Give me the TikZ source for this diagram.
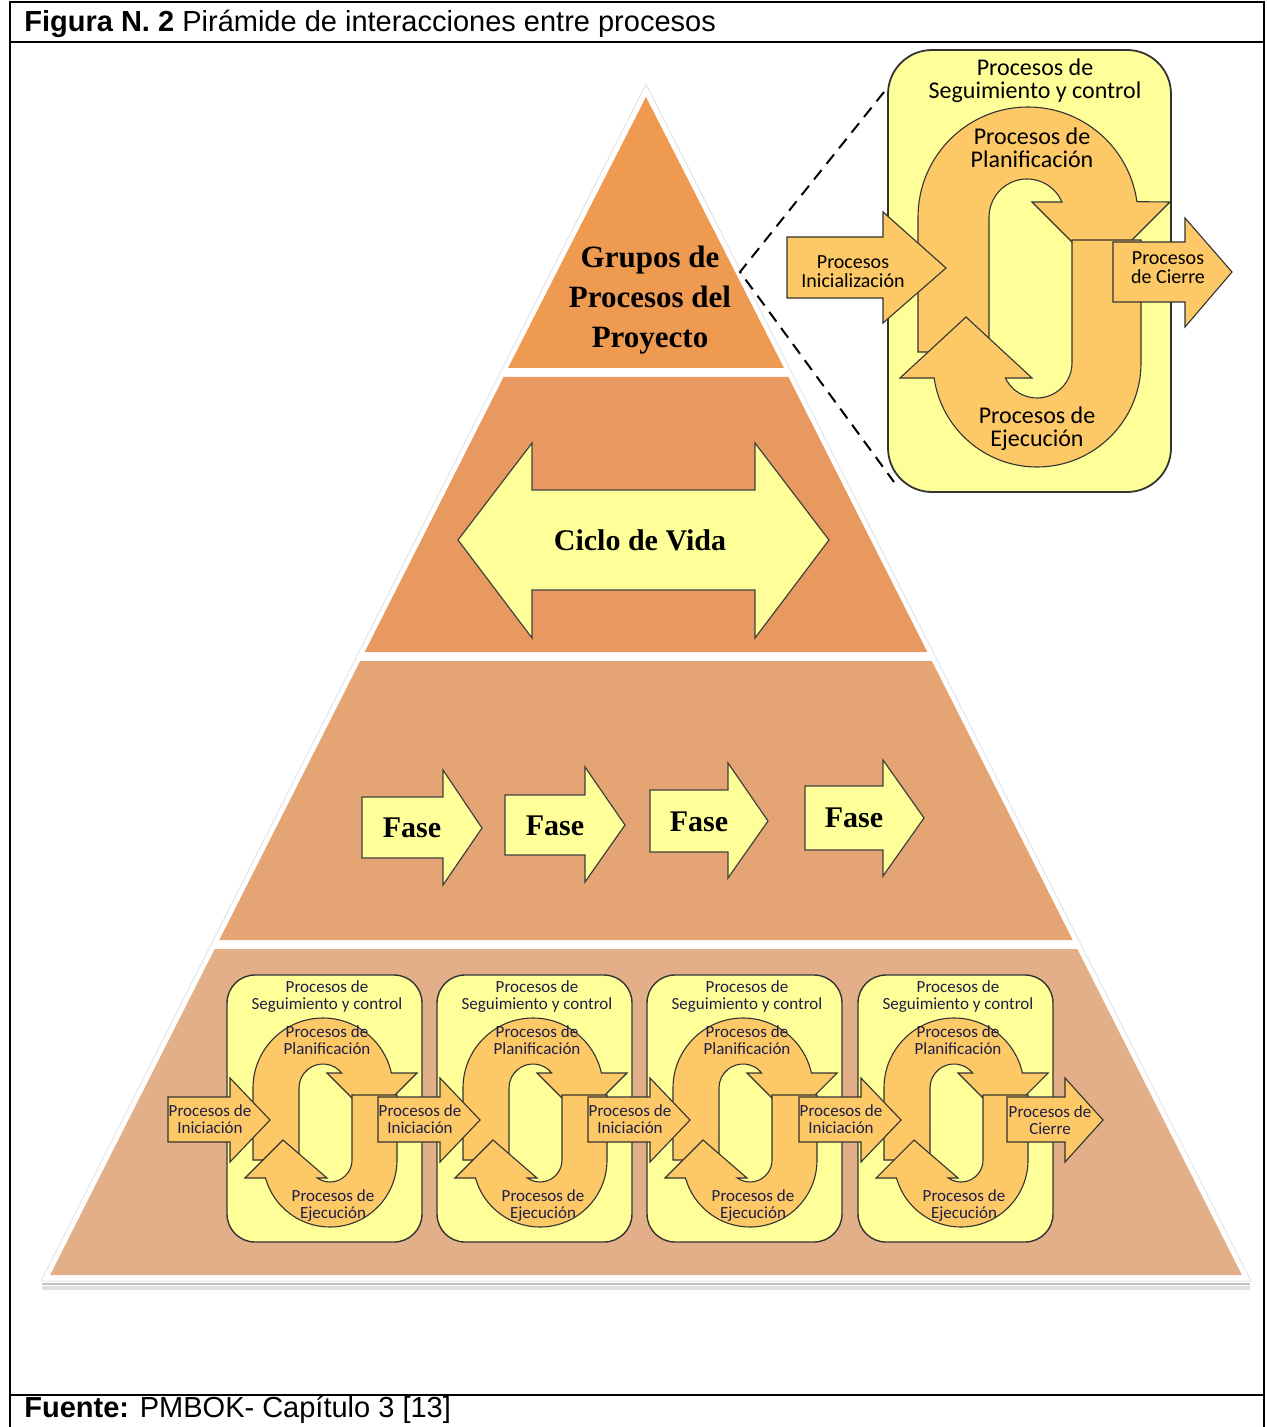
\documentclass[tikz,border=0pt]{standalone}
\usepackage{fontspec}
\setmainfont{Liberation Serif}
\newfontfamily\arialf{Liberation Sans}
\newfontfamily\calf{Carlito}
\definecolor{Lone}{HTML}{EE9A50}
\definecolor{Ltwo}{HTML}{E8995F}
\definecolor{Lthree}{HTML}{E4A473}
\definecolor{Lfour}{HTML}{E2AF89}
\definecolor{yelA}{HTML}{FFFF99}
\definecolor{orgA}{HTML}{FDC866}
\definecolor{navyT}{HTML}{1E1E46}
\tikzset{
  yelshape/.style={fill=yelA, draw=black!75, line width=0.6pt},
  orgshape/.style={fill=orgA, draw=black!80, line width=0.55pt},
  bigbox/.style={fill=yelA, draw=black!80, line width=0.9pt, rounded corners=22pt},
  minibox/.style={fill=yelA, draw=black!80, line width=0.7pt, rounded corners=14pt},
  serlbl/.style={font=\bfseries\fontsize{15.5}{20}\selectfont, align=center, inner sep=0pt},
  insettxt/.style={font=\calf\fontsize{12}{11.5}\selectfont, align=center, inner sep=0pt},
  insetsmall/.style={font=\calf\fontsize{10}{9.5}\selectfont, align=center, inner sep=0pt},
  minitxt/.style={font=\calf\fontsize{8.5}{8.5}\selectfont, align=center, inner sep=0pt, text=navyT},
  frameline/.style={line width=1pt, draw=black},
  dashline/.style={dashed, dash pattern=on 6pt off 4pt, line width=1pt}
}
\begin{document}
\begin{tikzpicture}[x=0.5pt, y=-0.5pt]
\useasboundingbox (0,0) rectangle (1266,1427);
\fill[white] (0,0) rectangle (1266,1427);

% frame
\draw[frameline] (10,1427) -- (10,2) -- (1264,2) -- (1264,1427);
\draw[frameline] (10,42) -- (1264,42);
\draw[frameline] (10,1395) -- (1264,1395);
\node[anchor=base west, inner sep=0pt, font=\arialf\fontsize{14.5}{17}\selectfont] (title) at (24,32)
  {\textbf{Figura N. 2} Pirámide de interacciones entre procesos};
\node[anchor=base west, inner sep=0pt, font=\arialf\fontsize{14.5}{17}\selectfont] (source) at (24,1417)
  {\textbf{Fuente:} PMBOK- Capítulo 3 [13]};

% pyramid shadow and outline
\draw[black!12, line width=2pt] (42,1288) -- (1250,1288);
\draw[black!25, line width=1pt] (42,1284) -- (1250,1284);
\draw[black!10, line width=0.5pt, fill=white] (646,84) -- (1251,1281) -- (41,1281) -- cycle;

% layers
\fill[Lone] (646,97) -- (784,368) -- (508,368) -- cycle;
\fill[Ltwo] (503.6,377) -- (788.4,377) -- (927.3,652) -- (364.7,652) -- cycle;
\fill[Lthree] (360.2,661) -- (931.8,661) -- (1072.7,940) -- (219.3,940) -- cycle;
\fill[Lfour] (214.7,949) -- (1077.3,949) -- (1241.9,1275) -- (50.1,1275) -- cycle;

\node[serlbl] (grupos) at (650,300) {Grupos de\\Procesos del\\Proyecto};

% ciclo de vida
\draw[yelshape] (458,540) -- (532,443) -- (532,490) -- (755,490) -- (755,443) -- (829,540)
  -- (755,638) -- (755,590) -- (532,590) -- (532,638) -- cycle;
\node[serlbl, font=\bfseries\fontsize{15}{18}\selectfont] (ciclo) at (640,540) {Ciclo de Vida};

% fases
\draw[yelshape] (362,797) -- (443,797) -- (443,770) -- (482,828) -- (443,885) -- (443,858) -- (362,858) -- cycle;
\draw[yelshape] (505,795) -- (585,795) -- (585,767) -- (625,825) -- (585,882) -- (585,855) -- (505,855) -- cycle;
\draw[yelshape] (650,790) -- (728,790) -- (728,763) -- (768,821) -- (728,878) -- (728,852) -- (650,852) -- cycle;
\draw[yelshape] (805,786) -- (883,786) -- (883,760) -- (924,818) -- (883,876) -- (883,850) -- (805,850) -- cycle;
\node[serlbl, font=\bfseries\fontsize{15}{18}\selectfont] (fase1) at (412,828) {Fase};
\node[serlbl, font=\bfseries\fontsize{15}{18}\selectfont] (fase2) at (555,826) {Fase};
\node[serlbl, font=\bfseries\fontsize{15}{18}\selectfont] (fase3) at (699,822) {Fase};
\node[serlbl, font=\bfseries\fontsize{15}{18}\selectfont] (fase4) at (854,818) {Fase};

% dashed zoom lines
\coordinate (dk) at (740,272);
\coordinate (du) at (884,92);
\coordinate (dl) at (894,482);
\draw[dashline] (du) -- (dk) -- (dl);

% inset
\draw[bigbox] (888,50) rectangle (1171,492);
\draw[orgshape] (918,352) -- (918,217) arc[start angle=180,end angle=352,radius=110]
  -- (1170,202) -- (1101,271) -- (1032,202) -- (1061.9,202)
  arc[start angle=336.75,end angle=180,radius=38] -- (989,352) -- cycle;
\draw[orgshape] (1072,240) -- (1141,240) -- (1141,363) arc[start angle=0,end angle=171.7,radius=104]
  -- (900,378) -- (966,317) -- (1032,378) -- (1005.4,378)
  arc[start angle=154.6,end angle=0,radius=35] -- cycle;
\draw[orgshape] (787,237) -- (883,237) -- (883,212) -- (946,268) -- (883,323) -- (883,298) -- (787,298) -- cycle;
\draw[orgshape] (1113,242) -- (1185,242) -- (1185,218) -- (1232,272) -- (1185,327) -- (1185,302) -- (1113,302) -- cycle;
\node[insettxt] (seg0) at (1035,81) {Procesos de\\Seguimiento y control};
\node[insettxt] (plan0) at (1032,148) {Procesos de\\Planificación};
\node[insettxt] (ejec0) at (1037,429) {Procesos de\\Ejecución};
\node[insetsmall] (inic0) at (853,272) {Procesos\\Inicialización};
\node[insetsmall] (cier0) at (1168,268) {Procesos\\de Cierre};

% mini cycles
\foreach \L [count=\i] in {227,437,647,858} {
  \begin{scope}[shift={(\L,975)}]
    \draw[minibox] (0,0) rectangle (195,267);
    \draw[orgshape] (26,185) -- (26,113) arc[start angle=180,end angle=347.63,radius=70]
      -- (190,98) -- (145,143) -- (100,98) -- (114.7,98)
      arc[start angle=321.32,end angle=180,radius=24] -- (72,185) -- cycle;
    \draw[orgshape] (125,120) -- (170,120) -- (170,185) arc[start angle=0,end angle=164.41,radius=67]
      -- (18,203) -- (56,165) -- (100,203) -- (90.35,203)
      arc[start angle=125.1,end angle=0,radius=22] -- cycle;
  \end{scope}
}
\foreach \L [count=\i] in {227,437,647,858} {
  \draw[orgshape] ({\L-59},1097) -- ({\L+3},1097) -- ({\L+3},1078) -- ({\L+43},1120)
    -- ({\L+3},1162) -- ({\L+3},1142) -- ({\L-59},1142) -- cycle;
}
\draw[orgshape] (1007,1097) -- (1065,1097) -- (1065,1078) -- (1103,1120) -- (1065,1162) -- (1065,1142) -- (1007,1142) -- cycle;
\foreach \L [count=\i] in {227,437,647,858} {
  \node[minitxt] (seg\i) at ({\L+100},997) {Procesos de\\Seguimiento y control};
  \node[minitxt] (plan\i) at ({\L+100},1040) {Procesos de\\Planificación};
  \node[minitxt] (ejec\i) at ({\L+106},1206) {Procesos de\\Ejecución};
  \node[minitxt] (inic\i) at ({\L-17},1119) {Procesos de\\Iniciación};
}
\node[minitxt] (cier) at (1050,1120) {Procesos de\\Cierre};
\end{tikzpicture}
\end{document}
